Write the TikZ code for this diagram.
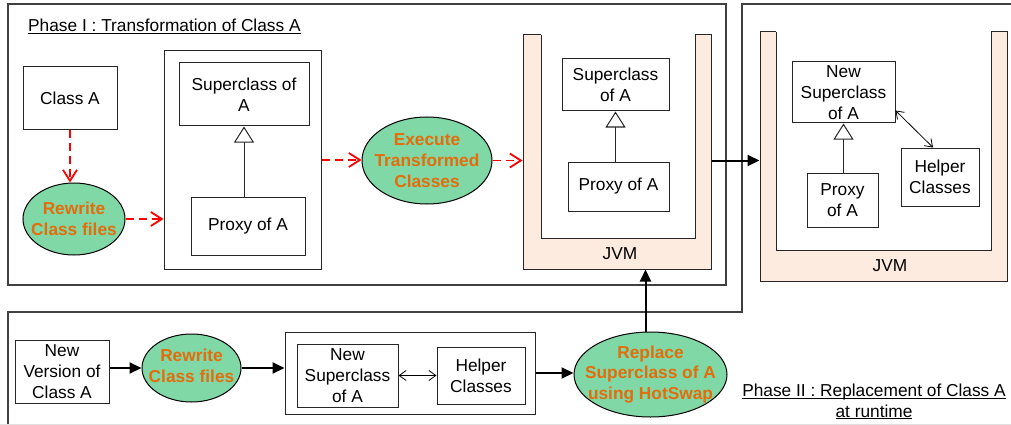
\documentclass[tikz,border=0pt]{standalone}
\usepackage{fontspec}
\setmainfont{Liberation Sans}
\usetikzlibrary{arrows.meta,shapes.geometric}
\definecolor{ora}{RGB}{228,108,10}
\definecolor{grn}{RGB}{128,216,166}
\definecolor{pch}{RGB}{253,235,223}
\definecolor{frm}{RGB}{64,64,64}
\newcommand\ulin[1]{\underline{\raisebox{0pt}[\height][0pt]{#1}}}
\begin{document}
\begin{tikzpicture}[x=1pt,y=-1pt,
  every node/.style={font=\fontsize{17.3}{20.8}\selectfont, inner sep=0pt},
  sz/.style 2 args={minimum width=#1pt, minimum height=#2pt},
  box/.style={draw=black!85, line width=1pt, fill=white, align=center},
  ell/.style={ellipse, draw=black, line width=1pt, fill=grn},
  elltext/.style={font=\fontsize{17.3}{20.8}\selectfont\bfseries, text=ora, align=center},
  frame/.style={draw=frm, line width=1.4pt},
  rdash/.style={draw=red, line width=1.8pt, dash pattern=on 8pt off 5pt, -{Straight Barb[length=11pt,width=14pt]}},
  blk/.style={draw=black, line width=2pt, -{Triangle[length=12pt,width=11pt]}},
  inh/.style={draw=black!85, line width=1pt, -{Triangle[open,length=16pt,width=20pt,fill=white]}},
  dbl/.style={draw=black, line width=0.8pt, {Straight Barb[length=7pt,width=10pt]}-{Straight Barb[length=7pt,width=10pt]}}
]
\useasboundingbox (0,0) rectangle (1011,425);

% frames
\draw[frame] (8,4) rectangle (726,285);
\draw[frame] (1013,4) -- (742,4) -- (742,312) -- (8,312) -- (8,427);
\draw[black!12, line width=1pt] (0,424.5) -- (1011,424.5);

% Phase I
\node[anchor=base west] (p1) at (28,31.5) {\ulin{Phase I : Transformation of Class A}};
\node[box, sz={94}{62}] (ca) at (70,98) {Class A};
\node[ell, sz={102}{72}] (rw1) at (74,219) {};
\node[elltext] (rw1t) at (rw1) {Rewrite\\Class files};
\node[box, sz={157}{218}] (cont1) at (242.5,160) {};
\node[box, sz={130}{63}] (sc1) at (244,94.5) {Superclass of\\A};
\node[box, sz={114}{58}] (px1) at (248,226) {Proxy of A};
\node[ell, sz={130}{87}] (exec) at (427,160.5) {};
\node[elltext] (exect) at (exec) {Execute\\Transformed\\Classes};

% JVM 1
\node[draw=black!85, line width=1pt, fill=pch, sz={188}{234}] (jvm1) at (617,152) {};
\fill[white] (541,33.4) rectangle (695,238);
\draw[draw=black!85, line width=1pt] (541,35) -- (541,238) -- (695,238) -- (695,35);
\node (jl1) at (620,254) {JVM};
\node[box, sz={107}{52}] (sc2) at (615.5,85) {Superclass\\of A};
\node[box, sz={101}{49}] (px2) at (618.5,186.5) {Proxy of A};

% JVM 2
\node[draw=black!85, line width=1pt, fill=pch, sz={247}{249}] (jvm2) at (883.5,156.5) {};
\fill[white] (776,30.4) rectangle (991,250);
\draw[draw=black!85, line width=1pt] (776,32) -- (776,250) -- (991,250) -- (991,32);
\node (jl2) at (890,266) {JVM};
\node[box, sz={103}{61}] (nsc) at (843.5,92.5) {New\\Superclass\\of A};
\node[box, sz={71}{54}] (px3) at (842.5,200) {Proxy\\of A};
\node[box, sz={78}{58}] (hlp2) at (940,177) {Helper\\Classes};

% Phase II bottom row
\node[box, sz={94}{63}] (nv) at (62,371.5) {New\\Version of\\Class A};
\node[ell, sz={99}{68}] (rw2) at (191.5,368) {};
\node[elltext] (rw2t) at (191.5,366) {Rewrite\\Class files};
\node[box, sz={250}{82}] (cont2) at (410,373) {};
\node[box, sz={101}{63}] (nsb) at (347.5,375.5) {New\\Superclass\\of A};
\node[box, sz={88}{57}] (hlp) at (481,375.5) {Helper\\Classes};
\node[ell, sz={153}{85}] (rep) at (650.5,374.5) {};
\node[elltext] (rept) at (rep) {Replace\\Superclass of A\\using HotSwap};
\node[align=center] (p2) at (874,401.5) {\ulin{Phase II : Replacement of Class A}\\\ulin{at runtime}};

% connectors
\draw[rdash] (ca.south) -- (ca.south |- rw1.north);
\draw[rdash] (rw1.east) -- (rw1.east -| cont1.west);
\draw[rdash] (cont1.east) -- (cont1.east -| exec.west);
\draw[rdash] (exec.east) -- (exec.east -| jvm1.west);
\draw[inh] (px1.north -| sc1.south) -- (sc1.south);
\draw[inh] (px2.north -| sc2.south) -- (sc2.south);
\draw[inh] (px3.north -| nsc.south) -- (nsc.south);
\draw[dbl] ([yshift=13pt]nsc.south east) -- ([xshift=-7pt]hlp2.north);
\draw[blk] (exec.east -| jvm1.east) -- (exec.east -| jvm2.west);
\draw[blk] (nv.east |- rw2.west) -- (rw2.west);
\draw[blk] (rw2.east) -- (rw2.east -| cont2.west);
\draw[blk] (cont2.east) -- (cont2.east -| rep.west);
\draw[dbl] (nsb) -- (hlp);
\draw[blk] ([xshift=-5pt]rep.north) -- ([xshift=-5pt]rep.north |- jvm1.south);
\end{tikzpicture}
\end{document}
